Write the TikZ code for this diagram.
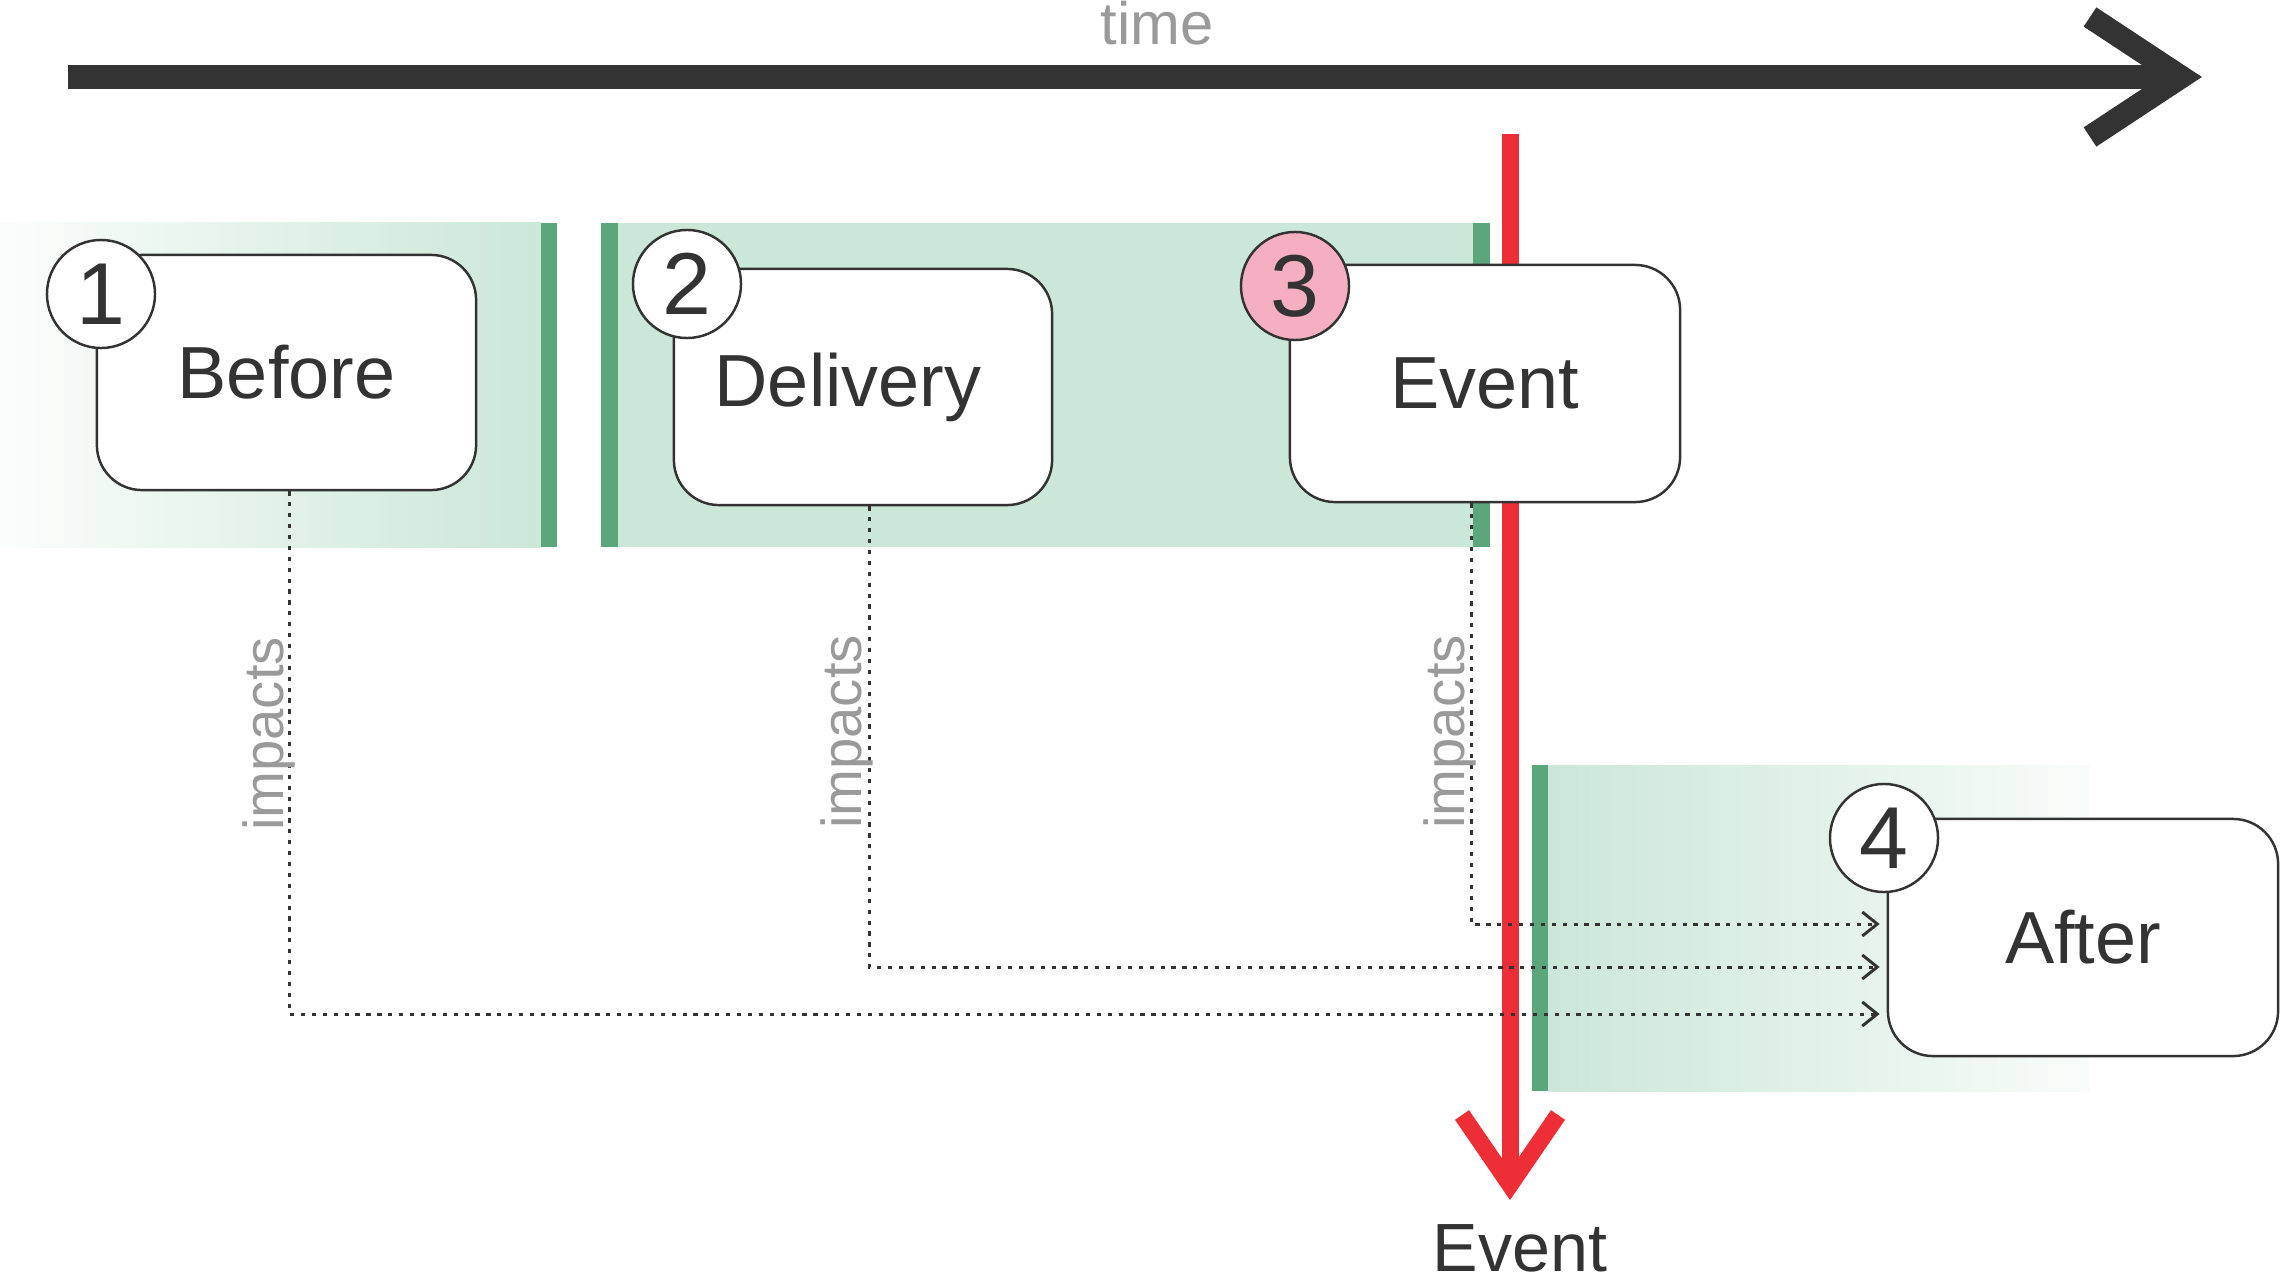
\documentclass[tikz,border=0pt]{standalone}
\usepackage{fontspec}
\setmainfont{Liberation Sans}
\usetikzlibrary{arrows.meta,calc}
\definecolor{dark}{HTML}{333333}
\definecolor{graytext}{HTML}{9A9A9A}
\definecolor{evred}{HTML}{EE2E37}
\definecolor{pinkfill}{HTML}{F5AFC0}
\definecolor{lightgreen}{HTML}{CBE7D7}
\definecolor{darkgreen}{HTML}{5BA67B}
\begin{document}
\begin{tikzpicture}[x=0.01cm,y=-0.01cm,
  stage/.style={draw=dark, line width=0.7pt, fill=white, rounded corners=0.45cm,
    inner sep=0pt, text=dark, font=\fontsize{21}{25}\selectfont},
  badge/.style={circle, draw=dark, line width=0.7pt, fill=white, minimum size=1.08cm,
    inner sep=0pt, text=dark, font=\fontsize{25}{30}\selectfont},
  imp/.style={draw=dark, line width=0.85pt, dash pattern=on 1.2pt off 1.9pt,
    -{Straight Barb[length=0.15cm,width=0.24cm]}, shorten >=0.07cm},
  implabel/.style={rotate=90, anchor=base, text=graytext, inner sep=0pt,
    font=\fontsize{16}{19}\selectfont},
  bigarrow/.style={line width=0.23cm, draw=dark},
  redarrow/.style={line width=0.17cm, draw=evred}
]
\useasboundingbox (0,0) rectangle (2281,1273);

% bands
\shade[left color=lightgreen!8, right color=lightgreen] (0,223) rectangle (541,547);
\fill[darkgreen] (541,223) rectangle (557,547);
\fill[lightgreen] (601,223) rectangle (1490,547);
\fill[darkgreen] (601,223) rectangle (618,547);
\fill[darkgreen] (1473,223) rectangle (1490,547);
\shade[left color=lightgreen, right color=lightgreen!12] (1548,765) rectangle (2090,1091);
\fill[darkgreen] (1532,765) rectangle (1548,1091);

% time arrow
\coordinate (t0) at (68,77);
\coordinate (t1) at (2181,77);
\coordinate (ta) at (2090,17);
\coordinate (tb) at (2090,137);
\draw[bigarrow] (t0) -- (t1);
\draw[bigarrow, line join=miter] (ta) -- (t1) -- (tb);
\node[anchor=base, text=graytext, font=\fontsize{17}{20}\selectfont] (time) at (1157,45) {time};

% event arrow
\coordinate (e0) at (1510,134);
\coordinate (e1) at (1510,1185);
\coordinate (ea) at (1462,1115);
\coordinate (eb) at (1558,1115);
\draw[redarrow] (e0) -- (e1);
\draw[redarrow, line join=miter] (ea) -- (e1) -- (eb);
\node[anchor=base, text=dark, font=\fontsize{19.4}{23}\selectfont] (evlabel) at (1520,1271) {Event};

% boxes
\node[stage, minimum width=3.79cm, minimum height=2.35cm] (b1) at (286.5,372.5) {Before};
\node[stage, minimum width=3.78cm, minimum height=2.36cm] (b2) at (863,387) {\hspace*{-0.3cm}Delivery};
\node[stage, minimum width=3.90cm, minimum height=2.37cm] (b3) at (1485,383.5) {Event};
\node[stage, minimum width=3.90cm, minimum height=2.37cm] (b4) at (2083,937.5) {After};

% badges
\node[badge] (n1) at (101,294) {1};
\node[badge] (n2) at (687,284) {2};
\node[badge, fill=pinkfill] (n3) at (1295,286) {3};
\node[badge] (n4) at (1884,838) {4};

% impacts connectors
\draw[imp] ([xshift=0.03cm]b1.south) |- ($(b4.west)+(0,76.5)$);
\draw[imp] ([xshift=0.06cm]b2.south) |- ($(b4.west)+(0,29.5)$);
\draw[imp] ([xshift=-0.14cm]b3.south) |- ($(b4.west)+(0,-13.5)$);

\node[implabel] (l1) at (283,734) {impacts};
\node[implabel] (l2) at (861.5,732) {impacts};
\node[implabel] (l3) at (1464,732) {impacts};
\end{tikzpicture}
\end{document}
